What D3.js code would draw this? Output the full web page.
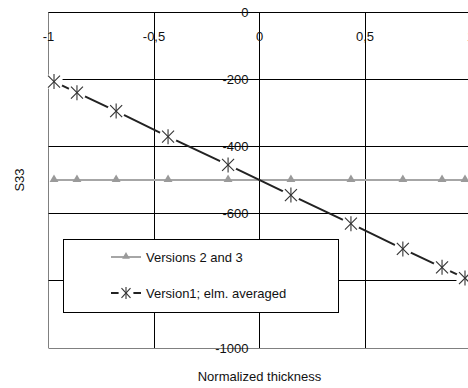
<!DOCTYPE html>
<html>
<head>
<meta charset="utf-8">
<script src="https://cdn.jsdelivr.net/npm/d3@7"></script>
<style>
  body { margin: 0; background: #fff; }
  text { font-family: "Liberation Sans", Arial, sans-serif; font-size: 13px; fill: #111; }
</style>
</head>
<body>
<div id="chart"></div>
<script>
var thickness = [-0.9739, -0.8651, -0.6794, -0.4334, -0.1489, 0.1489, 0.4334, 0.6794, 0.8651, 0.9739];
var versions23 = [-500, -500, -500, -500, -500, -500, -500, -500, -500, -500];
var version1 = [-207, -240, -295, -371, -455, -545, -630, -705, -760, -792];
var xTicks = [-1, -0.5, 0, 0.5, 1];
var xTickLabels = ["-1", "-0,5", "0", "0,5", "1"];
var yTicks = [0, -200, -400, -600, -800, -1000];
var yTickLabels = ["0", "-200", "-400", "-600", "-800", "-1000"];
var seriesNames = ["Versions 2 and 3", "Version1; elm. averaged"];

var width = 468, height = 388;
var x = d3.scaleLinear().domain([-1, 1]).range([48.5, 470.5]);
var y = d3.scaleLinear().domain([0, -1000]).range([12, 348]);
function crisp(v) { return Math.round(v - 0.5) + 0.5; }
var legBox = {x: 63.5, y: 239.5, w: 275, h: 73};

var svg = d3.select("#chart").append("svg").attr("width", width).attr("height", height);

// grid
svg.selectAll("line.vgrid").data(xTicks).enter().append("line").attr("class", "vgrid")
  .attr("x1", function(d) { return crisp(x(d)); }).attr("x2", function(d) { return crisp(x(d)); })
  .attr("y1", y(0)).attr("y2", y(-1000))
  .attr("stroke", function(d) { return d == -1 ? "#808080" : "#000"; }).attr("stroke-width", 1);
svg.selectAll("line.hgrid").data(yTicks).enter().append("line").attr("class", "hgrid")
  .attr("y1", function(d) { return crisp(y(d)); }).attr("y2", function(d) { return crisp(y(d)); })
  .attr("x1", x(-1)).attr("x2", x(1))
  .attr("stroke", function(d) { return d == -1000 ? "#808080" : "#000"; }).attr("stroke-width", 1);

// tick labels (the legend box hides the ones under it)
svg.selectAll("text.xlab").data(xTicks).enter().append("text").attr("class", "xlab")
  .attr("x", function(d) { return x(d); }).attr("y", 41).attr("text-anchor", "middle")
  .text(function(d, i) { return xTickLabels[i]; });
svg.selectAll("text.ylab").data(yTicks.filter(function(d) {
    return !(y(d) > legBox.y && y(d) < legBox.y + legBox.h);
  })).enter().append("text").attr("class", "ylab")
  .attr("x", x(0) - 11).attr("y", function(d) { return y(d); }).attr("dy", "0.35em")
  .attr("text-anchor", "end")
  .text(function(d) { return yTickLabels[yTicks.indexOf(d)]; });

// series 1: gray line with triangles
var line = d3.line().x(function(d, i) { return x(thickness[i]); }).y(function(d) { return y(d); });
svg.append("path").datum(versions23).attr("d", line).attr("fill", "none")
  .attr("stroke", "#a6a6a6").attr("stroke-width", 2);
var tri = d3.symbol().type(d3.symbolTriangle).size(34);
svg.selectAll("path.tri").data(versions23).enter().append("path").attr("class", "tri")
  .attr("d", tri).attr("fill", "#9a9a9a")
  .attr("transform", function(d, i) { return "translate(" + x(thickness[i]) + "," + (y(d) - 0.5) + ")"; });

// series 2: dark line, stars with white halo
svg.append("path").datum(version1).attr("d", line).attr("fill", "none")
  .attr("stroke", "#222").attr("stroke-width", 2);
svg.selectAll("circle.halo").data(version1).enter().append("circle").attr("class", "halo")
  .attr("cx", function(d, i) { return x(thickness[i]); }).attr("cy", function(d) { return y(d); })
  .attr("r", 9).attr("fill", "#fff");

function star(g, w, h) {
  g.append("line").attr("x1", 0).attr("x2", 0).attr("y1", -h).attr("y2", h);
  g.append("line").attr("x1", -w).attr("x2", w).attr("y1", -h * 0.8).attr("y2", h * 0.8);
  g.append("line").attr("x1", -w).attr("x2", w).attr("y1", h * 0.8).attr("y2", -h * 0.8);
  g.attr("stroke", "#333").attr("stroke-width", 1.1);
}
svg.selectAll("g.star").data(version1).enter().append("g").attr("class", "star")
  .attr("transform", function(d, i) { return "translate(" + x(thickness[i]) + "," + y(d) + ")"; })
  .each(function() { star(d3.select(this), 6, 7.5); });

// legend
var leg = svg.append("g");
leg.append("rect").attr("x", legBox.x).attr("y", legBox.y).attr("width", legBox.w).attr("height", legBox.h)
  .attr("fill", "#fff").attr("stroke", "#000").attr("stroke-width", 1);
leg.append("line").attr("x1", 111).attr("x2", 141).attr("y1", 257).attr("y2", 257)
  .attr("stroke", "#a6a6a6").attr("stroke-width", 2);
leg.append("path").attr("d", d3.symbol().type(d3.symbolTriangle).size(26))
  .attr("fill", "#9a9a9a").attr("transform", "translate(126,256.5)");
leg.append("text").attr("x", 146).attr("y", 257).attr("dy", "0.35em").text(seriesNames[0]);
leg.append("line").attr("x1", 111).attr("x2", 141).attr("y1", 293).attr("y2", 293)
  .attr("stroke", "#222").attr("stroke-width", 2);
leg.append("circle").attr("cx", 126).attr("cy", 293).attr("r", 7.5).attr("fill", "#fff");
star(leg.append("g").attr("transform", "translate(126,293)"), 4.5, 6);
leg.append("text").attr("x", 146).attr("y", 293).attr("dy", "0.35em").text(seriesNames[1]);

// axis titles
svg.append("text").attr("x", x(0)).attr("y", 381).attr("text-anchor", "middle").text("Normalized thickness");
svg.append("text").attr("transform", "translate(24,180) rotate(-90)").attr("text-anchor", "middle").text("S33");
</script>
</body>
</html>
